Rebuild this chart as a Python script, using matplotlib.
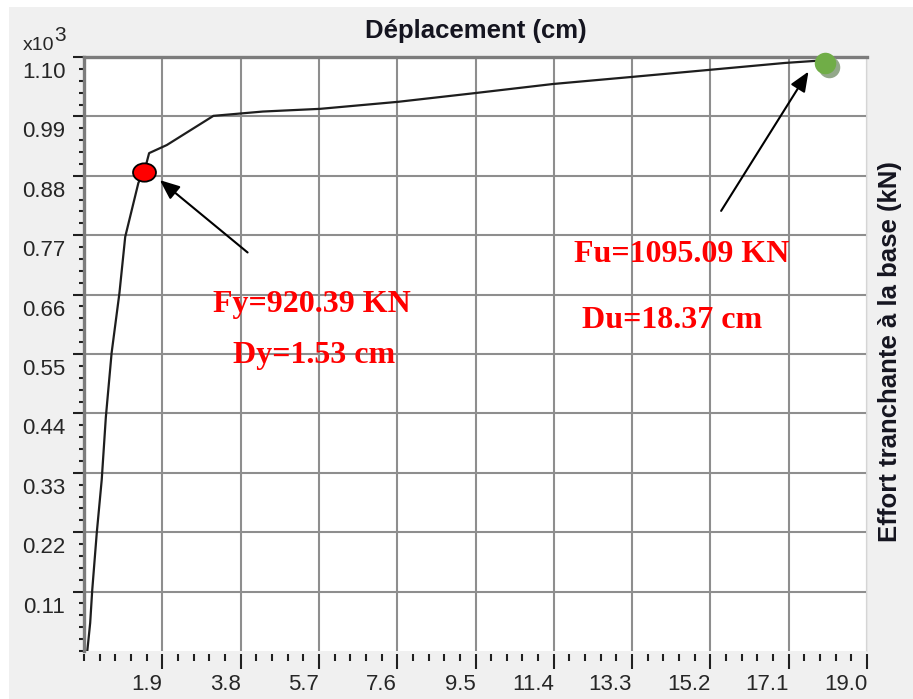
import numpy as np
import matplotlib
matplotlib.use("Agg")
import matplotlib.pyplot as plt
from matplotlib.path import Path
from matplotlib.patches import Rectangle
from matplotlib.transforms import ScaledTranslation
from matplotlib.ticker import FixedLocator, MultipleLocator

# courbe de capacité (pushover)
deplacement = [0.08, 0.15, 0.20, 0.31, 0.43, 0.53, 0.67, 0.86, 1.00, 1.32, 1.46,
               1.58, 2.01, 3.14, 4.34, 5.73, 7.62, 9.47, 11.38, 13.28, 15.15,
               17.01, 17.78, 17.99]
effort = [0, 52, 113, 219, 317, 433, 552, 663, 767, 867, 887,
          922, 937, 991, 999, 1004, 1017, 1033, 1050, 1063, 1076,
          1089, 1093, 1093]

# points remarquables
dy_point, fy_point = 1.46, 887
du_point, fu_point = 17.99, 1089
textes_y = ["Fy=920.39 KN", "Dy=1.53 cm"]
textes_u = ["Fu=1095.09 KN", "Du=18.37 cm"]

x_major = [1.9 * i for i in range(1, 11)]
x_labels = [f"{v:.1f}" for v in x_major]
y_major = [0.11 * i for i in range(1, 11)]
y_labels = [f"{v:.2f}" for v in y_major]

W, H = 913, 699
fig = plt.figure(figsize=(W / 100, H / 100), dpi=100, facecolor="white")
fig.add_artist(Rectangle((9 / W, 0), 1, (H - 7) / H, transform=fig.transFigure,
                         facecolor="#f0f0f0", edgecolor="none", zorder=-10))

ax = fig.add_axes([84 / W, (H - 651) / H, 783 / W, 594 / H])
ax.set_facecolor("white")
ax.set_xlim(0, 19.0)
ax.set_ylim(0, 1.10)

# ==================================
# AXES / GRILLE
# ==================================
for s in ["left", "top"]:
    ax.spines[s].set_color("#7c7c7c")
    ax.spines[s].set_linewidth(2.4)
ax.spines["right"].set_color("#e4e4e4")
ax.spines["right"].set_linewidth(1.2)
ax.spines["bottom"].set_visible(False)
ax.spines["bottom"].set_position(("outward", 2.5))

ax.xaxis.set_major_locator(FixedLocator(x_major))
ax.xaxis.set_minor_locator(MultipleLocator(0.38))
ax.set_xticks(x_major, x_labels)
ax.yaxis.set_major_locator(FixedLocator(y_major))
ax.yaxis.set_minor_locator(MultipleLocator(0.022))
ax.set_yticks(y_major, y_labels)

ax.tick_params(axis="x", which="major", length=11, width=1.5, color="#202020",
               pad=3, labelsize=16, labelcolor="#262626")
ax.tick_params(axis="x", which="minor", length=5, width=1.5, color="#202020")
ax.tick_params(axis="y", which="major", length=8, width=1.5, color="#202020",
               pad=5.5, labelsize=16, labelcolor="#262626")
ax.tick_params(axis="y", which="minor", length=3.6, width=1.5, color="#202020")

for lab in ax.get_xticklabels():
    lab.set_ha("right")
    lab.set_fontfamily("Liberation Sans")
for lab in ax.get_yticklabels():
    lab.set_va("top")
    lab.set_fontfamily("Liberation Sans")
    lab.set_transform(lab.get_transform() + ScaledTranslation(0, -0.05, fig.dpi_scale_trans))

ax.grid(True, which="major", color="#8e8e8e", linewidth=1.5)
ax.set_axisbelow(True)

# ==================================
# COURBE
# ==================================
ax.plot(deplacement, np.array(effort) / 1000, color="#1e1e1e", linewidth=1.6, zorder=3)

circ = Path.unit_circle()
ellipse = Path(circ.vertices * [1, 0.8], circ.codes)
ax.plot([dy_point], [fy_point / 1000], marker=ellipse, markersize=16.5,
        markerfacecolor="#ff0000", markeredgecolor="black", markeredgewidth=1.3,
        linestyle="none", zorder=5)

shadow = ax.transData + ScaledTranslation(0.035, -0.04, fig.dpi_scale_trans)
ax.plot([du_point], [fu_point / 1000], marker="o", markersize=15.5, color="#93a88a",
        markeredgewidth=0, linestyle="none", zorder=4, clip_on=False, transform=shadow)
ax.plot([du_point], [fu_point / 1000], marker="o", markersize=15.5, color="#70ad47",
        markeredgewidth=0, linestyle="none", zorder=5, clip_on=False)

# ==================================
# ANNOTATIONS
# ==================================
fleche = dict(arrowstyle="-|>,head_length=1.2,head_width=0.5", color="black", lw=1.5,
              shrinkA=0, shrinkB=0)
ax.annotate("", xy=(1.84, 0.872), xytext=(3.97, 0.738), arrowprops=fleche, zorder=6)
ax.annotate("", xy=(17.58, 1.073), xytext=(15.46, 0.815), arrowprops=fleche, zorder=6)

police = dict(family="Liberation Serif", fontweight="bold", fontsize=23,
              color="#ff0000", ha="center", va="baseline", zorder=7)
ax.text(5.53, 0.628, textes_y[0], **police)
ax.text(5.58, 0.533, textes_y[1], **police)
ax.text(14.51, 0.721, textes_u[0], **police)
ax.text(14.28, 0.598, textes_u[1], **police)

# ==================================
# TITRES
# ==================================
fig.text(476 / W, 1 - 31 / H, "Déplacement (cm)", ha="center", va="center",
         fontsize=18.5, fontweight="bold", family="Liberation Sans", color="#151520")
fig.text(890 / W, 1 - 352 / H, "Effort tranchante à la base (kN)", ha="center",
         va="center", rotation=90, fontsize=18.5, fontweight="bold",
         family="Liberation Sans", color="#151520")
mult = fig.text(23 / W, 1 - 50 / H, "x10", ha="left", va="baseline", fontsize=14,
                family="Liberation Sans", color="#262626")
ax.annotate("3", xy=(1, 0.55), xycoords=mult, ha="left", va="bottom", fontsize=15,
            family="Liberation Sans", color="#262626", annotation_clip=False)

fig.savefig("out.png", dpi=100, facecolor=fig.get_facecolor())
